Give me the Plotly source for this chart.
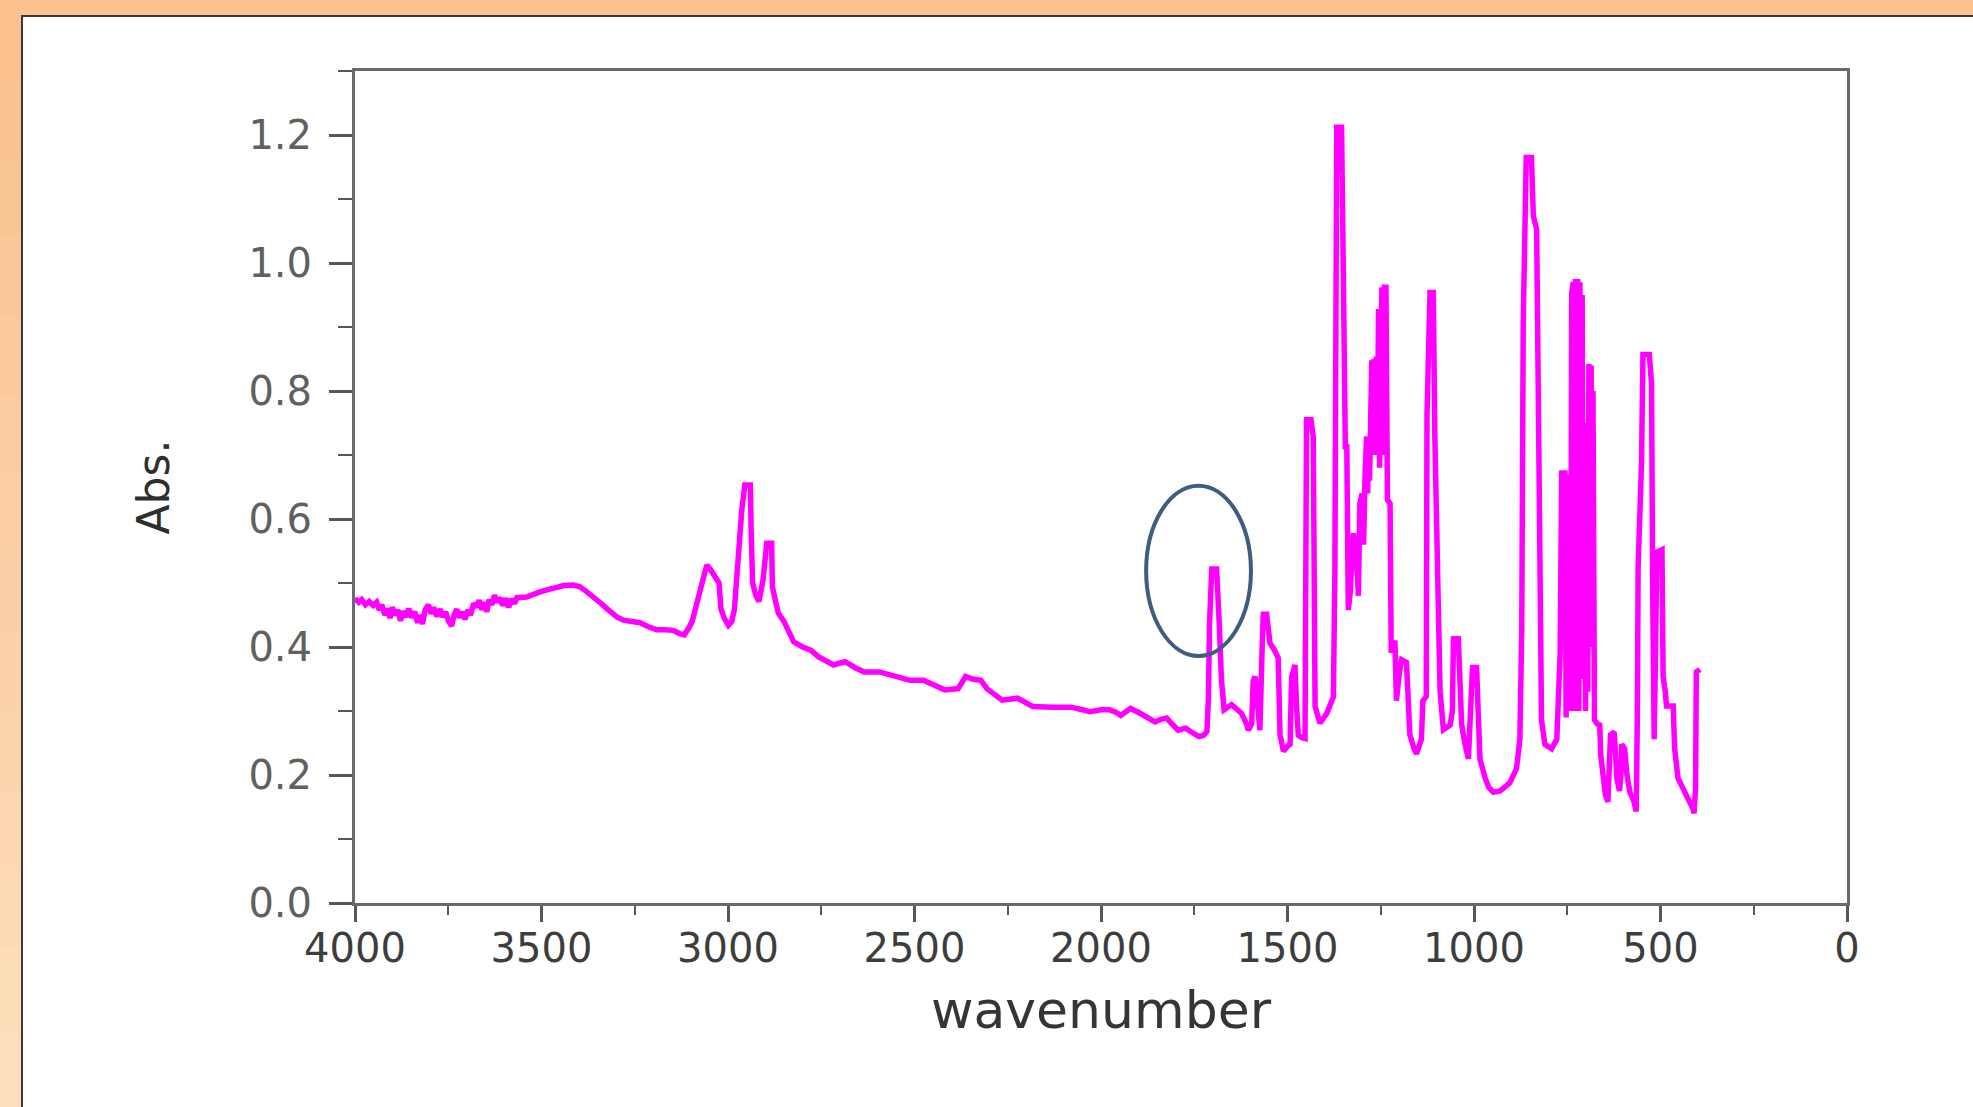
import plotly.graph_objects as go

# ---------------- data, by spectral region ----------------
# 4000-3117 cm-1 : noisy O-H region
wn_a = [4000, 3990, 3982, 3972, 3962, 3951, 3942, 3935, 3928, 3920, 3912, 3906, 3900, 3892, 3885,
        3878, 3871, 3863, 3856, 3848, 3840, 3832, 3826, 3819, 3812, 3803, 3796, 3789, 3781, 3772,
        3765, 3757, 3749, 3741, 3734, 3727, 3720, 3712, 3705, 3697, 3690, 3682, 3674, 3667, 3660,
        3653, 3647, 3640, 3633, 3626, 3619, 3612, 3604, 3596, 3588, 3580, 3572, 3566, 3540, 3520,
        3504, 3480, 3459, 3440, 3415, 3397, 3380, 3361, 3340, 3325, 3310, 3298, 3280, 3263, 3236,
        3215, 3191, 3170, 3147, 3130, 3117]
abs_a = [0.476, 0.470, 0.474, 0.466, 0.471, 0.465, 0.470, 0.458, 0.466, 0.450, 0.460, 0.445, 0.462, 0.450, 0.458,
         0.441, 0.456, 0.447, 0.460, 0.446, 0.455, 0.438, 0.450, 0.436, 0.458, 0.466, 0.452, 0.462, 0.448, 0.459,
         0.447, 0.455, 0.440, 0.433, 0.450, 0.459, 0.446, 0.455, 0.443, 0.458, 0.450, 0.468, 0.462, 0.473, 0.458,
         0.470, 0.455, 0.474, 0.466, 0.481, 0.470, 0.477, 0.465, 0.476, 0.462, 0.475, 0.468, 0.477, 0.478, 0.483,
         0.486, 0.490, 0.494, 0.496, 0.497, 0.494, 0.487, 0.479, 0.468, 0.460, 0.452, 0.447, 0.442, 0.440, 0.438,
         0.432, 0.427, 0.427, 0.426, 0.421, 0.419]

# 3105-2800 cm-1 : C-H stretch region
wn_b = [3105, 3096, 3085, 3076, 3068, 3057, 3048, 3035, 3024, 3019, 3010, 2999, 2990, 2983, 2973,
        2963, 2955, 2940, 2938, 2934, 2925, 2917, 2906, 2896, 2883, 2881, 2872, 2865, 2850, 2840,
        2824, 2800]
abs_b = [0.430, 0.440, 0.465, 0.484, 0.500, 0.528, 0.522, 0.510, 0.500, 0.460, 0.445, 0.434, 0.440, 0.458, 0.546,
         0.614, 0.653, 0.653, 0.583, 0.500, 0.480, 0.471, 0.505, 0.562, 0.562, 0.494, 0.470, 0.453, 0.440, 0.427,
         0.408, 0.400]

# 2778-1716 cm-1 : sloping baseline
wn_c = [2778, 2758, 2740, 2717, 2700, 2686, 2660, 2635, 2594, 2550, 2512, 2476, 2450, 2419, 2383,
        2363, 2345, 2322, 2306, 2285, 2265, 2224, 2200, 2183, 2130, 2080, 2050, 2029, 2000, 1978,
        1960, 1947, 1935, 1921, 1900, 1886, 1870, 1855, 1840, 1824, 1810, 1793, 1780, 1773, 1755,
        1737, 1725, 1716]
abs_c = [0.395, 0.385, 0.380, 0.372, 0.375, 0.377, 0.368, 0.361, 0.361, 0.354, 0.348, 0.348, 0.341, 0.333, 0.335,
         0.354, 0.350, 0.348, 0.335, 0.325, 0.317, 0.320, 0.312, 0.307, 0.306, 0.306, 0.302, 0.299, 0.302, 0.302,
         0.298, 0.293, 0.298, 0.304, 0.298, 0.294, 0.288, 0.283, 0.287, 0.289, 0.280, 0.270, 0.272, 0.273, 0.266,
         0.260, 0.262, 0.268]

# 1712-1377 cm-1 : C=O band and 1600-1400 bands
wn_d = [1712, 1709, 1703, 1690, 1683, 1677, 1670, 1660, 1650, 1640, 1623, 1610, 1605, 1596, 1592,
        1587, 1580, 1574, 1568, 1565, 1556, 1551, 1547, 1535, 1525, 1520, 1511, 1500, 1493, 1489,
        1480, 1475, 1471, 1460, 1453, 1449, 1437, 1431, 1426, 1413, 1395, 1377]
abs_d = [0.320, 0.437, 0.522, 0.522, 0.437, 0.348, 0.302, 0.305, 0.310, 0.305, 0.296, 0.280, 0.270, 0.280, 0.346,
         0.354, 0.300, 0.270, 0.400, 0.451, 0.451, 0.420, 0.406, 0.395, 0.383, 0.263, 0.237, 0.245, 0.248, 0.353,
         0.372, 0.300, 0.262, 0.258, 0.257, 0.755, 0.755, 0.729, 0.307, 0.281, 0.296, 0.322]

# 1373-1004 cm-1
wn_e = [1373, 1368, 1355, 1350, 1345, 1341, 1337, 1332, 1328, 1323, 1318, 1314, 1310, 1306, 1300,
        1296, 1292, 1288, 1285, 1283, 1280, 1277, 1274, 1271, 1268, 1265, 1262, 1259, 1256, 1253,
        1250, 1247, 1243, 1240, 1236, 1234, 1232, 1225, 1222, 1212, 1208, 1200, 1194, 1181, 1172,
        1160, 1154, 1141, 1137, 1128, 1126, 1118, 1109, 1105, 1096, 1091, 1082, 1064, 1058, 1055,
        1042, 1036, 1033, 1024, 1015, 1004]
abs_e = [0.515, 1.212, 1.212, 0.968, 0.713, 0.713, 0.458, 0.484, 0.541, 0.578, 0.520, 0.534, 0.480, 0.624, 0.640,
         0.560, 0.669, 0.729, 0.640, 0.729, 0.660, 0.845, 0.848, 0.700, 0.850, 0.737, 0.854, 0.700, 0.928, 0.680,
         0.940, 0.962, 0.700, 0.962, 0.962, 0.734, 0.630, 0.624, 0.391, 0.410, 0.316, 0.360, 0.380, 0.376, 0.263,
         0.240, 0.233, 0.256, 0.316, 0.323, 0.762, 0.954, 0.954, 0.729, 0.413, 0.331, 0.271, 0.278, 0.300, 0.413,
         0.413, 0.300, 0.278, 0.248, 0.225, 0.368]

# 993-394 cm-1 : fingerprint region
wn_f = [993, 988, 984, 970, 960, 948, 930, 904, 886, 877, 872, 868, 860, 846, 841,
        832, 828, 823, 819, 810, 792, 778, 769, 765, 756, 753, 750, 747, 744, 741,
        738, 734, 731, 728, 725, 722, 719, 716, 713, 710, 707, 704, 701, 698, 695,
        692, 689, 686, 683, 681, 679, 677, 670, 663, 660, 654, 648, 641, 637, 634,
        624, 621, 617, 610, 606, 604, 596, 590, 582, 572, 565, 562, 560, 551, 547,
        530, 524, 521, 519, 517, 513, 510, 496, 493, 487, 484, 466, 462, 453, 440,
        430, 422, 413, 410, 406, 404, 394]
abs_f = [0.368, 0.286, 0.225, 0.195, 0.180, 0.173, 0.175, 0.188, 0.210, 0.256, 0.428, 0.909, 1.165, 1.165, 1.074,
         1.052, 0.752, 0.383, 0.286, 0.248, 0.241, 0.256, 0.391, 0.672, 0.672, 0.290, 0.660, 0.300, 0.669, 0.300,
         0.954, 0.970, 0.300, 0.975, 0.320, 0.975, 0.300, 0.970, 0.400, 0.950, 0.350, 0.699, 0.300, 0.750, 0.330,
         0.842, 0.400, 0.840, 0.450, 0.800, 0.522, 0.286, 0.280, 0.278, 0.230, 0.188, 0.170, 0.158, 0.200, 0.263,
         0.267, 0.220, 0.195, 0.175, 0.200, 0.248, 0.241, 0.200, 0.173, 0.160, 0.143, 0.300, 0.526, 0.684, 0.857,
         0.857, 0.811, 0.496, 0.400, 0.256, 0.400, 0.548, 0.552, 0.353, 0.330, 0.308, 0.308, 0.241, 0.195, 0.180,
         0.170, 0.162, 0.147, 0.140, 0.180, 0.361, 0.365]

# highlighted band (ellipse) around the ~1700 cm-1 peak, in data units
ellipse_wn = [1879, 1598]
ellipse_abs = [0.386, 0.652]

x_range = [4000, 0]
y_range = [0, 1.3]
x_title = "wavenumber"
y_title = "Abs."

wavenumber = wn_a + wn_b + wn_c + wn_d + wn_e + wn_f
absorbance = abs_a + abs_b + abs_c + abs_d + abs_e + abs_f
assert len(wavenumber) == len(absorbance)

# ---------------- layout geometry ----------------
W, H = 1973, 1107
L, R, T, B = 355, 126, 71, 204
PW, PH = W - L - R, H - T - B


def px_x(px):
    return (px - L) / PW


def px_y(py):
    return (H - B - py) / PH


FONT = "DejaVu Sans"

fig = go.Figure()
fig.add_trace(go.Scatter(
    x=wavenumber, y=absorbance, mode="lines",
    line=dict(color="#FF00FF", width=5.5),
    showlegend=False, hoverinfo="x+y",
))

shapes = []
# left orange strip as a vertical gradient
top_c = (250, 192, 141)
bot_c = (253, 222, 188)
n = 14
for i in range(n):
    f = i / (n - 1)
    c = tuple(round(top_c[k] + (bot_c[k] - top_c[k]) * f) for k in range(3))
    y0p = H * i / n
    y1p = H * (i + 1) / n
    shapes.append(dict(type="rect", xref="paper", yref="paper", layer="below",
                       x0=px_x(-5), x1=px_x(22), y0=px_y(y1p + 1), y1=px_y(y0p),
                       fillcolor="rgb(%d,%d,%d)" % c, line=dict(width=0)))
# top orange strip
shapes.append(dict(type="rect", xref="paper", yref="paper", layer="below",
                   x0=px_x(20), x1=px_x(W + 5), y0=px_y(16), y1=px_y(-5),
                   fillcolor="rgb(251,194,142)", line=dict(width=0)))
# white slide panel with thin dark border
shapes.append(dict(type="rect", xref="paper", yref="paper", layer="below",
                   x0=px_x(22), x1=px_x(W + 20), y0=px_y(H + 20), y1=px_y(16),
                   fillcolor="white", line=dict(color="#3a3a3a", width=2)))
# ellipse annotation
shapes.append(dict(type="circle", xref="x", yref="y", layer="above",
                   x0=ellipse_wn[0], x1=ellipse_wn[1], y0=ellipse_abs[0], y1=ellipse_abs[1],
                   line=dict(color="#3F5D80", width=4)))

axis_common = dict(
    showline=True, linewidth=3, linecolor="#6a6a6a", mirror=True,
    showgrid=False, zeroline=False, ticks="outside", tickwidth=2.5,
    tickcolor="#585858", automargin=False,
)

fig.update_layout(
    width=W, height=H,
    margin=dict(l=L, r=R, t=T, b=B, pad=0),
    paper_bgcolor="rgb(251,194,142)",
    plot_bgcolor="white",
    shapes=shapes,
    xaxis=dict(
        **axis_common,
        range=x_range, tick0=0, dtick=500, ticklen=16,
        minor=dict(ticks="outside", dtick=250, ticklen=9, tickwidth=2, tickcolor="#585858", showgrid=False),
        tickfont=dict(family=FONT, size=40, color="#3d3d3d"),
        ticklabelstandoff=-8,
        title=dict(text=x_title, font=dict(family=FONT, size=52, color="#353535"), standoff=22),
    ),
    yaxis=dict(
        **axis_common,
        range=y_range, tick0=0, dtick=0.2, tickformat=".1f", ticklen=23,
        minor=dict(ticks="outside", dtick=0.1, ticklen=14, tickwidth=2, tickcolor="#585858", showgrid=False),
        tickfont=dict(family=FONT, size=40, color="#606060"),
        ticklabelstandoff=9,
        title=dict(text=y_title, font=dict(family=FONT, size=44, color="#2e2e2e"), standoff=65),
    ),
)

fig.write_html("out.html", config={"displayModeBar": False},
               post_script="document.body.style.margin='0px';")
